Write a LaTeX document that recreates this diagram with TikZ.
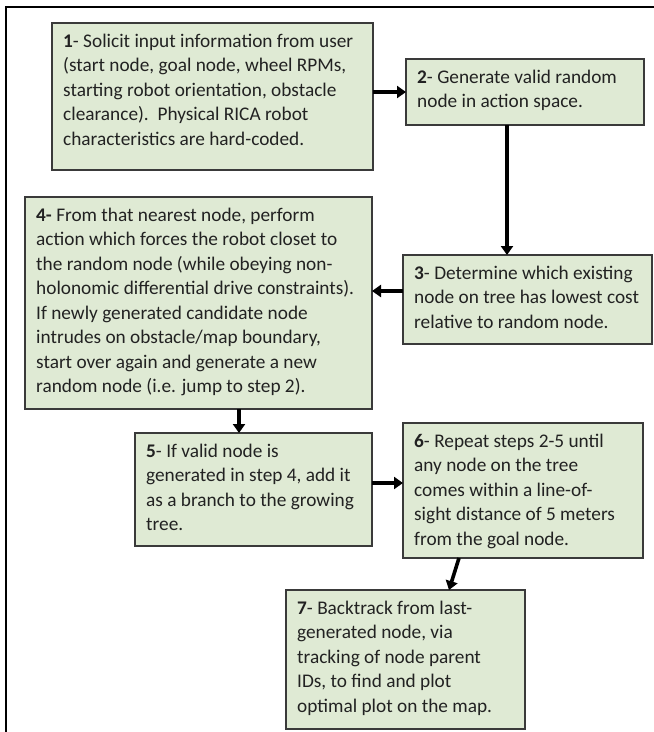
\documentclass[tikz,border=0pt]{standalone}
\usepackage{fontspec}
\setmainfont{Carlito}
\usetikzlibrary{arrows.meta}
\definecolor{boxfill}{HTML}{DFEAD4}
\definecolor{boxline}{HTML}{3A3A3A}
\definecolor{inktext}{HTML}{222222}
\newcommand{\stepfont}{\fontsize{19.3}{24.5}\selectfont}
\tikzset{
  stepbox/.style={draw=boxline, fill=boxfill, line width=1.6pt, inner sep=0pt, outer sep=0pt, anchor=north west},
  steptext/.style={anchor=north west, inner sep=0pt, align=left, font=\stepfont, text=inktext},
  flow/.style={line width=3.6pt, -{Triangle[length=9pt,width=12pt]}},
}
\begin{document}
\begin{tikzpicture}[x=1pt,y=-1pt]
\useasboundingbox (0,0) rectangle (654,732);
\fill[white] (0,0) rectangle (654,732);
% page frame (left and top rules)
\draw[line width=2.4pt] (6,732) -- (6,7) -- (654,7);

% step boxes
\node[stepbox, minimum width=321pt, minimum height=147pt] (b1) at (52,23) {};
\node[stepbox, minimum width=238pt, minimum height=66pt]  (b2) at (406,59) {};
\node[stepbox, minimum width=249pt, minimum height=89pt]  (b3) at (403,255) {};
\node[stepbox, minimum width=347pt, minimum height=212pt] (b4) at (25,197) {};
\node[stepbox, minimum width=237pt, minimum height=113pt] (b5) at (135,433) {};
\node[stepbox, minimum width=240pt, minimum height=135pt] (b6) at (403,423) {};
\node[stepbox, minimum width=239pt, minimum height=139pt] (b7) at (286,590) {};

% step texts
\node[steptext] (t1) at ([shift={(11pt,-6.85pt)}]b1.north west) {\strut\textbf{1}- Solicit input information from user\\(start node, goal node, wheel RPMs,\\starting robot orientation, obstacle\\clearance).~~Physical RICA robot\\characteristics are hard-coded.};
\node[steptext] (t2) at ([shift={(11pt,-6.85pt)}]b2.north west) {\strut\textbf{2}- Generate valid random\\node in action space.};
\node[steptext] (t3) at ([shift={(11pt,-6.85pt)}]b3.north west) {\strut\textbf{3}- Determine which existing\\node on tree has lowest cost\\relative to random node.};
\node[steptext] (t4) at ([shift={(11pt,-6.85pt)}]b4.north west) {\strut\textbf{4-} From that nearest node, perform\\action which forces the robot closet to\\the random node (while obeying non-\\holonomic differential drive constraints).\\If newly generated candidate node\\intrudes on obstacle/map boundary,\\start over again and generate a new\\random node (i.e. jump to step 2).};
\node[steptext] (t5) at ([shift={(11pt,-6.85pt)}]b5.north west) {\strut\textbf{5}- If valid node is\\generated in step 4, add it\\as a branch to the growing\\tree.};
\node[steptext] (t6) at ([shift={(11pt,-6.85pt)}]b6.north west) {\strut\textbf{6}- Repeat steps 2-5 until\\any node on the tree\\comes within a line-of-\\sight distance of 5 meters\\from the goal node.};
\node[steptext] (t7) at ([shift={(11pt,-6.85pt)}]b7.north west) {\strut\textbf{7}- Backtrack from last-\\generated node, via\\tracking of node parent\\IDs, to find and plot\\optimal plot on the map.};

% connector end points
\coordinate (s2) at ([xshift=-18pt]b2.south);
\coordinate (s3) at ([yshift=8.5pt]b3.west);
\coordinate (s5) at ([xshift=-14.5pt]b5.north);
\coordinate (e5) at ([yshift=6.5pt]b5.east);
\coordinate (s6) at ([xshift=-64pt]b6.south);
\coordinate (n7) at ([xshift=43.5pt]b7.north);

% flow arrows
\draw[flow] (b2.west -| b1.east) -- (b2.west);
\draw[flow] (s2) -- (s2 |- b3.north);
\draw[flow] (s3) -- (s3 -| b4.east);
\draw[flow] (s5 |- b4.south) -- (s5);
\draw[flow] (e5) -- (e5 -| b6.west);
\draw[flow] (s6) -- (n7);
\end{tikzpicture}
\end{document}
